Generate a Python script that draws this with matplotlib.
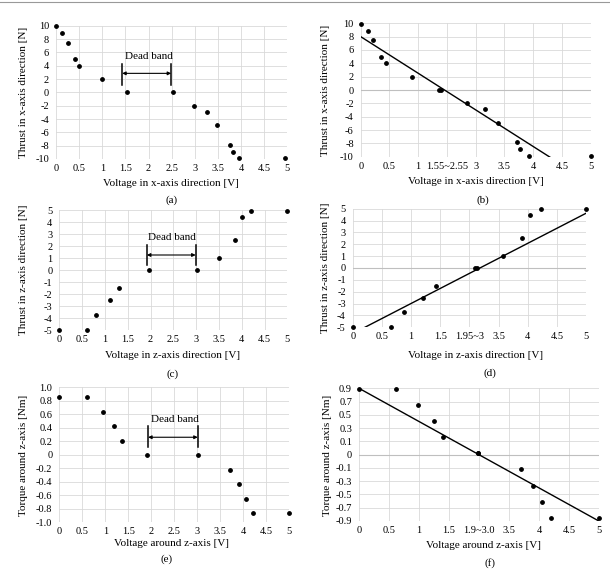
import matplotlib
matplotlib.use("Agg")
import matplotlib.pyplot as plt
import numpy as np
from matplotlib.lines import Line2D

plt.rcParams['font.family'] = ['Liberation Serif', 'DejaVu Serif']
plt.rcParams['axes.unicode_minus'] = False

W, H = 610, 569

# (a) thrust in x vs voltage
a_volt = [0, 0.14, 0.25, 0.40, 0.50, 1.0, 1.54, 2.53, 2.98, 3.27, 3.48, 3.76, 3.82, 3.96, 4.96]
a_thrust = [9.9, 8.9, 7.4, 4.95, 3.95, 2.0, 0, 0, -2, -3, -4.9, -7.9, -8.9, -9.8, -9.8]

# (b) same data on the compressed axis (dead band removed)
b_pos = [0, 0.125, 0.215, 0.355, 0.445, 0.895, 1.37, 1.40, 1.84, 2.165, 2.385, 2.71, 2.765, 2.925, 4.0]
b_thrust = [9.9, 8.9, 7.5, 5.0, 4.0, 2.0, 0.05, 0.05, -1.9, -2.9, -4.9, -7.85, -8.85, -9.85, -9.85]
b_fit = (8.0, -5.49)  # intercept, slope
b_labels = ['0', '0.5', '1', '1.55~2.55', '3', '3.5', '4', '4.5', '5']

# (c) thrust in z vs voltage
c_volt = [0, 0.6, 0.80, 1.11, 1.30, 1.96, 3.01, 3.50, 3.86, 4.0, 4.21, 5.0]
c_thrust = [-5, -5, -3.75, -2.5, -1.5, 0, 0, 1.0, 2.5, 4.45, 4.95, 4.95]

# (d) compressed axis
d_pos = [0, 0.655, 0.88, 1.205, 1.42, 2.095, 2.135, 2.57, 2.90, 3.045, 3.235, 4.0]
d_thrust = [-5, -5, -3.75, -2.5, -1.5, 0, 0, 1.0, 2.5, 4.5, 5.0, 5.0]
d_fit = (-5.53, 2.536)
d_labels = ['0', '0.5', '1', '1.5', '1.95~3', '3.5', '4', '4.5', '5']

# (e) torque vs voltage
e_volt = [0, 0.61, 0.96, 1.20, 1.36, 1.91, 3.01, 3.70, 3.91, 4.05, 4.21, 5.0]
e_torque = [0.85, 0.85, 0.64, 0.43, 0.21, 0, 0, -0.22, -0.43, -0.65, -0.86, -0.86]

# (f) compressed axis, y plotted on label positions
f_pos = [0, 0.615, 0.975, 1.25, 1.405, 1.975, 1.985, 2.70, 2.895, 3.045, 3.195, 4.0]
f_torque = [0.99, 0.99, 0.75, 0.51, 0.26, 0.02, 0.02, -0.22, -0.47, -0.71, -0.95, -0.95]
f_fit = (1.0, -0.501)
f_labels = ['0', '0.5', '1', '1.5', '1.9~3.0', '3.5', '4', '4.5', '5']
f_ylabels = ['-0.9', '-0.7', '-0.5', '-0.3', '-0.1', '0', '0.1', '0.3', '0.5', '0.7', '0.9']

FS = 7.5
GRID = '#d9d9d9'

fig = plt.figure(figsize=(W / 100, H / 100), dpi=100)


def make_ax(l, r, t, b):
    ax = fig.add_axes([l / W, 1 - b / H, (r - l) / W, (b - t) / H])
    for s in ax.spines.values():
        s.set_visible(False)
    ax.tick_params(length=0, labelsize=FS, pad=3.5)
    ax.tick_params(axis='y', pad=5)
    ax.grid(True, color=GRID, lw=0.6)
    ax.set_axisbelow(True)
    return ax


def dots(ax, x, y):
    ax.scatter(x, y, s=6, color='black', zorder=3, clip_on=False)


def txt(x, y, s, rot=0):
    fig.text(x / W, 1 - y / H, s, ha='center', va='center', fontsize=FS + 0.5, rotation=rot)


def dead_band(ax, x1, x2, y0, y1, ya, xt, yt):
    ax.plot([x1, x1], [y0, y1], color='black', lw=1.1)
    ax.plot([x2, x2], [y0, y1], color='black', lw=1.1)
    ax.annotate('', xy=(x2, ya), xytext=(x1, ya),
                arrowprops=dict(arrowstyle='<|-|>', color='black', lw=0.8,
                                mutation_scale=5, shrinkA=0, shrinkB=0))
    ax.text(xt, yt, 'Dead band', ha='center', va='center', fontsize=FS + 0.5)


xt = np.arange(0, 5.01, 0.5)
xt_lab = ['0', '0.5', '1', '1.5', '2', '2.5', '3', '3.5', '4', '4.5', '5']

# (a)
ax = make_ax(56, 287.3, 25.7, 159)
dots(ax, a_volt, a_thrust)
ax.set_xlim(0, 5); ax.set_ylim(-10, 10)
ax.set_xticks(xt, xt_lab)
ax.set_yticks(np.arange(-10, 11, 2))
dead_band(ax, 1.43, 2.49, 1.15, 4.3, 2.85, 2.01, 5.45)
txt(171, 183, 'Voltage in x-axis direction [V]')
txt(23, 92, 'Thrust in x-axis direction [N]', 90)
txt(172, 200, '(a)')

# (b)
ax = make_ax(360.7, 590.7, 23.3, 156.7)
dots(ax, b_pos, b_thrust)
xx = np.array([0, 4])
ax.plot(xx, b_fit[0] + b_fit[1] * xx, color='black', lw=1)
ax.axhline(0, color='#bfbfbf', lw=0.8, zorder=1)
ax.set_xlim(0, 4); ax.set_ylim(-10, 10)
ax.set_xticks(np.arange(0, 4.01, 0.5), b_labels)
ax.set_yticks(np.arange(-10, 11, 2))
txt(476, 181, 'Voltage in x-axis direction [V]')
txt(325, 90, 'Thrust in x-axis direction [N]', 90)
txt(483, 200, '(b)')

# (c)
ax = make_ax(59.3, 287.3, 210, 330)
dots(ax, c_volt, c_thrust)
ax.set_xlim(0, 5); ax.set_ylim(-5, 5)
ax.set_xticks(xt, xt_lab)
ax.set_yticks(np.arange(-5, 6, 1))
dead_band(ax, 1.92, 2.99, 0.42, 2.08, 1.25, 2.48, 2.7)
txt(173, 355, 'Voltage in z-axis direction [V]')
txt(23, 270, 'Thrust in z-axis direction [N]', 90)
txt(173, 374, '(c)')

# (d)
ax = make_ax(352.7, 586, 208.7, 327.3)
dots(ax, d_pos, d_thrust)
ax.plot(xx, d_fit[0] + d_fit[1] * xx, color='black', lw=1)
ax.axhline(0, color='#bfbfbf', lw=0.8, zorder=1)
ax.set_xlim(0, 4); ax.set_ylim(-5, 5)
ax.set_xticks(np.arange(0, 4.01, 0.5), d_labels)
ax.set_yticks(np.arange(-5, 6, 1))
txt(476, 355, 'Voltage in z-axis direction [V]')
txt(325, 268, 'Thrust in z-axis direction [N]', 90)
txt(490, 373, '(d)')

# (e)
ax = make_ax(59.3, 289.3, 387.3, 522.3)
dots(ax, e_volt, e_torque)
ax.set_xlim(0, 5); ax.set_ylim(-1, 1)
ax.set_xticks(xt, xt_lab)
yv = np.round(np.arange(-1, 1.01, 0.2), 1)
ax.set_yticks(yv, ['0' if v == 0 else f'{v:.1f}' for v in yv])
dead_band(ax, 1.93, 3.01, 0.11, 0.42, 0.26, 2.51, 0.53)
txt(172, 544, 'Voltage around z-axis [V]')
txt(23, 455, 'Torque around z-axis [Nm]', 90)
txt(167, 559, '(e)')

# (f)
ax = make_ax(359, 599.3, 388.3, 521)
dots(ax, f_pos, f_torque)
ax.plot(xx, f_fit[0] + f_fit[1] * xx, color='black', lw=1)
ax.axhline(0, color='#bfbfbf', lw=0.8, zorder=1)
ax.set_xlim(0, 4); ax.set_ylim(-1, 1)
ax.set_xticks(np.arange(0, 4.01, 0.5), f_labels)
ax.set_yticks(np.round(np.arange(-1, 1.01, 0.2), 1), f_ylabels)
txt(484, 546, 'Voltage around z-axis [V]')
txt(327, 455, 'Torque around z-axis [Nm]', 90)
txt(490, 563, '(f)')

fig.add_artist(Line2D([0, 1], [1 - 2 / H, 1 - 2 / H], color='#999999', lw=0.8))

fig.savefig('out.png', dpi=100)
